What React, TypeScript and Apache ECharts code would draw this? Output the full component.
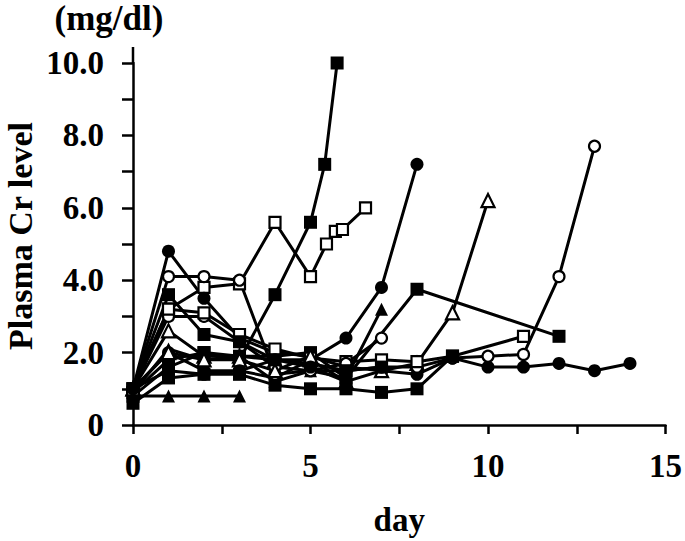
import React, { useEffect, useRef } from "react";
import * as echarts from "echarts";

// [day, Plasma Cr (mg/dl)] per patient
const sqRiseTo10 = [[0, 0.9], [1, 1.8], [2, 2.0], [3, 1.8], [4, 3.6], [5, 5.6], [5.4, 7.2], [5.75, 10.0]];
const osqRiseTo6 = [[0, 1.0], [1, 3.2], [2, 3.8], [3, 3.9], [4, 5.6], [5, 4.1], [5.45, 5.0], [5.7, 5.35], [5.9, 5.4], [6.55, 6.0]];
const fcLongDay14 = [[0, 1.0], [1, 4.8], [2, 3.5], [3, 2.4], [4, 2.0], [5, 1.9], [6, 1.6], [7, 1.5], [8, 1.4], [9, 1.85], [10, 1.6], [11, 1.6], [12, 1.7], [13, 1.5], [14, 1.7]];
const fcRiseDay8 = [[0, 1.0], [1, 2.0], [2, 1.5], [3, 1.5], [4, 1.3], [5, 1.8], [6, 2.4], [7, 3.8], [8, 7.2]];
const otRiseDay10 = [[0, 1.0], [1, 2.6], [2, 1.9], [3, 1.9], [4, 1.8], [5, 1.8], [6, 1.2], [7, 1.5], [8, 1.7], [9, 3.1], [10, 6.2]];
const ftRiseDay7 = [[0, 0.9], [1, 2.1], [2, 1.8], [3, 1.9], [4, 1.2], [5, 1.5], [6, 1.3], [7, 3.2]];
const sqPeakDay8 = [[0, 0.8], [1, 1.6], [2, 2.0], [3, 1.9], [4, 1.9], [5, 2.0], [6, 1.3], [8, 3.75], [12, 2.45]];
const ocRiseDay13 = [[0, 1.0], [1, 3.0], [2, 3.0], [3, 2.3], [4, 1.6], [5, 1.5], [6, 1.5], [7, 1.6], [8, 1.6], [9, 1.85], [10, 1.9], [11, 1.95], [12, 4.1], [13, 7.7]];
const osqDay11 = [[0, 1.0], [1, 3.2], [2, 3.1], [3, 2.5], [4, 2.1], [5, 1.85], [6, 1.75], [7, 1.8], [8, 1.75], [9, 1.9], [11, 2.45]];
const sqLow = [[0, 0.6], [1, 1.3], [2, 1.4], [3, 1.4], [4, 1.1], [5, 1.0], [6, 1.0], [7, 0.9], [8, 1.0], [9, 1.9]];
const ftFlat = [[0, 0.8], [1, 0.8], [2, 0.8], [3, 0.8]];
const ocDay7 = [[0, 1.0], [1, 4.1], [2, 4.1], [3, 4.0], [4, 1.4], [5, 1.5], [6, 1.7], [7, 2.4]];
const sqPeakDay1 = [[0, 1.0], [1, 3.6], [2, 2.5], [3, 2.3], [4, 1.8], [5, 1.7], [6, 1.5], [7, 1.6]];
const otShort = [[0, 1.0], [1, 2.0], [2, 1.8], [3, 1.8], [4, 1.5], [5, 1.9]];
const fcLowShort = [[0, 1.0], [1, 1.5], [2, 1.4], [3, 1.5], [4, 1.8], [5, 1.6], [6, 1.2]];

const yTickLabels = ["0", "2.0", "4.0", "6.0", "8.0", "10.0"];
const xTickLabels = ["0", "5", "10", "15"];

type Kind = "fs" | "os" | "fc" | "oc" | "ft" | "ot";
const seriesDefs: [string, number[][], Kind][] = [
  ["sqRiseTo10", sqRiseTo10, "fs"],
  ["osqRiseTo6", osqRiseTo6, "os"],
  ["fcLongDay14", fcLongDay14, "fc"],
  ["fcRiseDay8", fcRiseDay8, "fc"],
  ["otRiseDay10", otRiseDay10, "ot"],
  ["ftRiseDay7", ftRiseDay7, "ft"],
  ["sqPeakDay8", sqPeakDay8, "fs"],
  ["ocRiseDay13", ocRiseDay13, "oc"],
  ["osqDay11", osqDay11, "os"],
  ["sqLow", sqLow, "fs"],
  ["ftFlat", ftFlat, "ft"],
  ["ocDay7", ocDay7, "oc"],
  ["sqPeakDay1", sqPeakDay1, "fs"],
  ["otShort", otShort, "ot"],
  ["fcLowShort", fcLowShort, "fc"],
];

const FONT = "'Liberation Serif', 'Times New Roman', serif";

export default function App() {
  const ref = useRef<HTMLDivElement>(null);
  useEffect(() => {
    if (!ref.current) return;
    const chart = echarts.init(ref.current, null, { renderer: "svg" });
    const gridLeft = 133;
    const gridTop = 63;
    const series = seriesDefs.map(([name, data, kind]) => {
      const filled = kind[0] === "f";
      const shape = kind[1] === "s" ? "rect" : kind[1] === "c" ? "circle" : "triangle";
      const size = shape === "rect" ? (filled ? 13 : 11) : shape === "circle" ? (filled ? 13 : 11) : 13;
      return {
        name,
        type: "line",
        data,
        symbol: shape,
        symbolSize: size,
        showAllSymbol: true,
        lineStyle: { color: "#000", width: 3 },
        itemStyle: { color: filled ? "#000" : "#fff", borderColor: "#000", borderWidth: filled ? 0 : 2.2 },
        z: 2,
      };
    });
    chart.setOption({
      animation: false,
      backgroundColor: "#fff",
      grid: { left: gridLeft, right: 15, top: gridTop, bottom: 106 },
      xAxis: {
        type: "value",
        min: 0,
        max: 15,
        interval: 2.5,
        name: "day",
        nameLocation: "middle",
        nameGap: 78,
        nameTextStyle: { fontFamily: FONT, fontWeight: "bold", fontSize: 33, color: "#000" },
        axisLine: { lineStyle: { color: "#000", width: 2.5 } },
        axisTick: { length: 9, lineStyle: { color: "#000", width: 2.5 } },
        splitLine: { show: false },
        axisLabel: {
          margin: 24,
          fontFamily: FONT,
          fontWeight: "bold",
          fontSize: 33,
          color: "#000",
          formatter: (v: number) => (v % 5 === 0 ? xTickLabels[v / 5] : ""),
        },
      },
      yAxis: {
        type: "value",
        min: 0,
        max: 10,
        interval: 1,
        axisLine: { lineStyle: { color: "#000", width: 2.5 } },
        axisTick: { length: 11, lineStyle: { color: "#000", width: 2.5 } },
        splitLine: { show: false },
        axisLabel: {
          margin: 29,
          fontFamily: FONT,
          fontWeight: "bold",
          fontSize: 33,
          color: "#000",
          formatter: (v: number) => (v % 2 === 0 ? yTickLabels[v / 2] : ""),
        },
      },
      graphic: [
        { type: "line", shape: { x1: gridLeft, y1: 47, x2: gridLeft, y2: gridTop }, style: { stroke: "#000", lineWidth: 2.5 } },
        {
          type: "text",
          x: 109,
          y: 18,
          style: { text: "(mg/dl)", font: `bold 35px ${FONT}`, fill: "#000", textAlign: "center", textVerticalAlign: "middle" },
        },
        {
          type: "text",
          x: 20,
          y: 236,
          rotation: Math.PI / 2,
          style: { text: "Plasma Cr level", font: `bold 34px ${FONT}`, fill: "#000", textAlign: "center", textVerticalAlign: "middle" },
        },
      ],
      series,
    });
    return () => chart.dispose();
  }, []);
  return <div ref={ref} style={{ position: "fixed", left: 0, top: 0, width: 685, height: 541 }} />;
}
